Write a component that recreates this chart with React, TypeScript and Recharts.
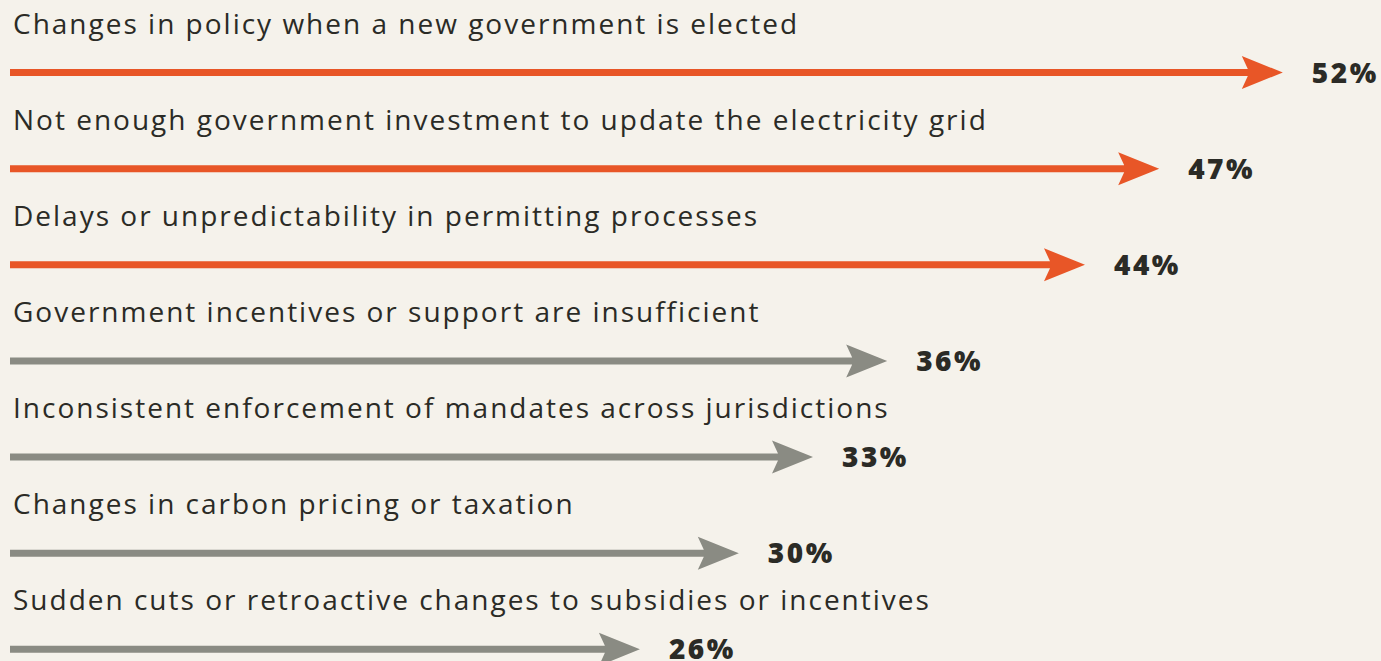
import React from "react";
import { BarChart, Bar, XAxis, YAxis, LabelList } from "recharts";

const categories = [
  "Changes in policy when a new government is elected",
  "Not enough government investment to update the electricity grid",
  "Delays or unpredictability in permitting processes",
  "Government incentives or support are insufficient",
  "Inconsistent enforcement of mandates across jurisdictions",
  "Changes in carbon pricing or taxation",
  "Sudden cuts or retroactive changes to subsidies or incentives",
];
const values = [52, 47, 44, 36, 33, 30, 26];
const valueLabels = ["52%", "47%", "44%", "36%", "33%", "30%", "26%"];
const highlighted = [true, true, true, false, false, false, false];

const data = categories.map((label, i) => ({
  label,
  value: values[i],
  valueLabel: valueLabels[i],
  highlighted: highlighted[i],
}));

const BG = "#F5F2EB";
const ORANGE = "#E85627";
const GRAY = "#8A8B83";
const TEXT = "#2B2B26";
const FONT = "'Open Sans', sans-serif";

const TIP_INSET = 13;
const HEAD_LEN = 41;
const HEAD_HALF = 16.5;
const NOTCH = 6;
const LINE_W = 7;

const ArrowShape = (props: any) => {
  const { x, y, width, height, payload } = props;
  const cy = y + height / 2;
  const tip = x + width - TIP_INSET;
  const back = tip - HEAD_LEN;
  const notch = back + NOTCH;
  const color = payload && payload.highlighted ? ORANGE : GRAY;
  const d = [
    `M ${x} ${cy - LINE_W / 2}`,
    `L ${notch} ${cy - LINE_W / 2}`,
    `L ${back} ${cy - HEAD_HALF}`,
    `L ${tip} ${cy}`,
    `L ${back} ${cy + HEAD_HALF}`,
    `L ${notch} ${cy + LINE_W / 2}`,
    `L ${x} ${cy + LINE_W / 2}`,
    "Z",
  ].join(" ");
  return <path d={d} fill={color} />;
};

const getBox = (props: any) => {
  const vb = props.viewBox || {};
  return {
    x: props.x ?? vb.x,
    y: props.y ?? vb.y,
    width: props.width ?? vb.width,
    height: props.height ?? vb.height,
  };
};

const CategoryLabel = (props: any) => {
  const { x, y, height } = getBox(props);
  const cy = y + height / 2;
  return (
    <text
      x={x + 3}
      y={cy - 39}
      fill={TEXT}
      fontFamily={FONT}
      fontSize={28}
      letterSpacing={2}
    >
      {props.value}
    </text>
  );
};

const ValueLabel = (props: any) => {
  const { x, y, width, height } = getBox(props);
  const cy = y + height / 2;
  const tip = x + width - TIP_INSET;
  return (
    <text
      x={tip + 29}
      y={cy + 10}
      fill={TEXT}
      fontFamily={FONT}
      fontWeight={800}
      fontSize={28}
      letterSpacing={2.5}
    >
      {props.value}
    </text>
  );
};

export default function App() {
  return (
    <div
      style={{
        position: "absolute",
        left: 0,
        top: 0,
        width: 1381,
        height: 661,
        overflow: "hidden",
        background: BG,
      }}
    >
      <BarChart
        width={1381}
        height={700}
        data={data}
        layout="vertical"
        margin={{ top: 24, right: 11, bottom: 3, left: 10 }}
        barSize={7}
      >
        <XAxis type="number" domain={[0, 55]} hide />
        <YAxis type="category" dataKey="label" hide />
        <Bar
          dataKey="value"
          shape={ArrowShape}
          isAnimationActive={false}
        >
          <LabelList dataKey="label" content={CategoryLabel} />
          <LabelList dataKey="valueLabel" content={ValueLabel} />
        </Bar>
      </BarChart>
    </div>
  );
}
